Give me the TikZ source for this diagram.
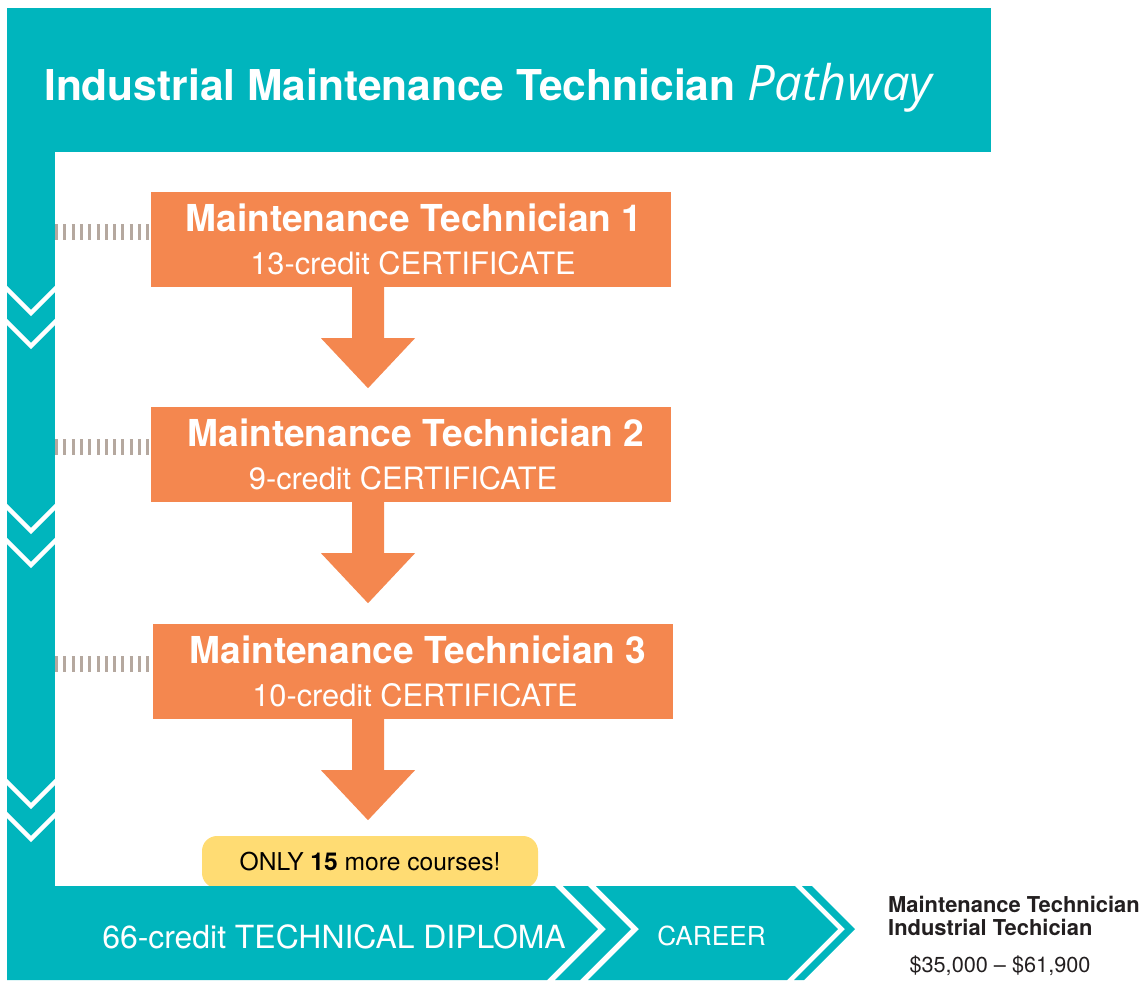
\documentclass[tikz,border=0pt]{standalone}
\usepackage{fontspec}
\setmainfont{TeX Gyre Heros}
\newfontfamily\handfont{Open Sans}
\usetikzlibrary{calc,positioning}

\definecolor{pathteal}{RGB}{0,181,189}
\definecolor{certorange}{RGB}{244,135,79}
\definecolor{onlyyellow}{RGB}{255,220,115}
\definecolor{tickgray}{RGB}{181,168,159}
\definecolor{inkdark}{RGB}{35,31,32}

% block arrow hanging below a certificate box
\newcommand\certarrow[1]{\fill[certorange] (#1) ++(-16,0) -- ++(0,51) -- ++(-31,0) -- ++(47,50) -- ++(47,-50) -- ++(-31,0) -- ++(0,-51) -- cycle;}

\tikzset{
  certbox/.style={fill=certorange, minimum width=520pt, minimum height=95pt, inner sep=0pt},
  certtitle/.style={text=white, font=\fontsize{37.1}{40}\selectfont\bfseries, anchor=base, inner sep=0pt},
  certsub/.style={text=white, font=\fontsize{30.8}{33}\selectfont, anchor=base, inner sep=0pt},
  tickline/.style={tickgray, line width=16pt, dash pattern=on 3pt off 5.3pt},
  chevline/.style={white, line width=4.5pt},
  bandtext/.style={text=white, font=\fontsize{31.9}{34}\selectfont, anchor=base, inner sep=0pt},
  jobtext/.style={text=inkdark, font=\fontsize{21.7}{23}\selectfont, inner sep=0pt}
}

\begin{document}
\begin{tikzpicture}[x=1pt, y=-1pt]
    \useasboundingbox (0,0) rectangle (1142,980);

    % header and left bar
    \fill[pathteal] (7,8) rectangle (991,152);
    \fill[pathteal] (7,152) rectangle (55,886);
    \node[text=white, anchor=base west, inner sep=0pt] (title) at (44,100)
        {\fontsize{42.5}{48}\selectfont\bfseries Industrial Maintenance Technician
         {\handfont\mdseries\itshape\fontsize{49}{52}\selectfont Pathway}};

    \coordinate (barR) at (55,0);
    \coordinate (axis) at (368,0);

    % chevrons in the bar
    \begin{scope}
        \clip (7,152) rectangle (55,886);
        \foreach \y in {289,322,507,541,782,815}
            \draw[chevline] (1,\y-6) -- (31,\y+24) -- (61,\y-6);
    \end{scope}

    % certificates
    \node[certbox] (mt1) at (411,239.5) {};
    \node[certtitle] (mt1t) at ($(mt1.north)+(3,40)$) {Maintenance Technician 1};
    \node[certsub] (mt1s) at ($(mt1.north)+(2,83)$) {13-credit CERTIFICATE};

    \node[certbox] (mt2) at (411,454.5) {};
    \node[certtitle] (mt2t) at ($(mt2.north)+(5,40)$) {Maintenance Technician 2};
    \node[certsub] (mt2s) at ($(mt2.north)+(-8,83)$) {9-credit CERTIFICATE};

    \node[certbox] (mt3) at (413,671.5) {};
    \node[certtitle] (mt3t) at ($(mt3.north)+(5,40)$) {Maintenance Technician 3};
    \node[certsub] (mt3s) at ($(mt3.north)+(2,83)$) {10-credit CERTIFICATE};

    \certarrow{mt1.south -| axis}
    \certarrow{mt2.south -| axis}
    \certarrow{mt3.south -| axis}

    \draw[tickline] ([yshift=8pt]mt1.west -| barR) -- ([yshift=8pt]mt1.west);
    \draw[tickline] ([yshift=8pt]mt2.west -| barR) -- ([yshift=8pt]mt2.west);
    \draw[tickline] ([yshift=8pt]mt3.west -| barR) -- ([yshift=8pt]mt3.west);

    % only 15 more
    \node[fill=onlyyellow, rounded corners=15pt, minimum width=336pt, minimum height=52pt,
          inner sep=0pt, text=black, font=\fontsize{24.6}{27}\selectfont] (only) at (370,862)
        {ONLY \textbf{15} more courses!};

    % bottom band
    \fill[pathteal] (7,886) -- (555,886) -- (598,929) -- (547,980) -- (7,980) -- cycle;
    \fill[pathteal] (563,886) -- (588,886) -- (631,929) -- (580,980) -- (555,980) -- (606,929) -- cycle;
    \fill[pathteal] (596,886) -- (795,886) -- (838,929) -- (787,980) -- (588,980) -- (639,929) -- cycle;
    \fill[pathteal] (802,886) -- (812,886) -- (855,929) -- (804,980) -- (794,980) -- (845,929) -- cycle;

    \node[bandtext] (diploma) at (334,948) {66-credit TECHNICAL DIPLOMA};
    \node[bandtext, font=\fontsize{26.2}{30}\selectfont] (career) at (711.5,945) {CAREER};

    \node[jobtext, anchor=base west, font=\fontsize{21.9}{23}\selectfont\bfseries] (job1) at (888,912) {Maintenance Technician};
    \node[jobtext, anchor=base west, font=\fontsize{21.9}{23}\selectfont\bfseries] (job2) at (888,935) {Industrial Techician};
    \node[jobtext, anchor=base] (pay) at (1000,972) {\$35,000 -- \$61,900};
\end{tikzpicture}
\end{document}
